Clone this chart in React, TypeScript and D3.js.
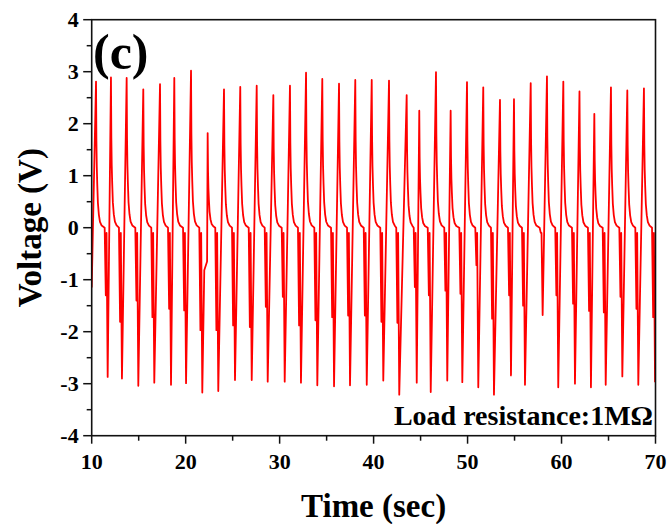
import React from "react";
import * as d3 from "d3";

// ---- data ----
const peakTimes = [10.46, 12.05, 13.72, 15.49, 17.27, 18.79, 20.57, 22.34, 24.08, 25.81, 27.56, 29.33, 31.10, 32.81, 34.54, 36.32, 38.05, 39.80, 41.64, 43.52, 44.86, 46.64, 48.20, 49.94, 51.67, 53.45, 54.94, 56.72, 58.45, 60.19, 61.91, 63.49, 65.26, 67.00, 68.77];
const peakVolts = [2.81, 2.89, 2.88, 2.66, 2.76, 2.88, 3.02, 1.82, 2.66, 2.71, 2.73, 2.55, 2.73, 2.98, 2.86, 2.77, 2.84, 2.84, 2.83, 2.55, 2.25, 2.99, 2.25, 2.80, 2.70, 2.46, 2.47, 2.78, 2.91, 2.81, 2.62, 2.19, 2.70, 2.64, 2.68];
const troughTimes = [11.70, 13.22, 14.96, 16.66, 18.44, 20.04, 21.77, 23.47, 25.25, 27.03, 28.73, 30.54, 32.27, 34.01, 35.79, 37.49, 39.27, 41.03, 42.73, 44.59, 46.08, 47.84, 49.44, 51.14, 52.81, 54.62, 56.11, 57.99, 59.65, 61.43, 63.13, 64.70, 66.47, 68.17, 69.95];
const troughVolts = [-2.87, -2.90, -3.04, -2.98, -3.02, -2.99, -3.17, -3.14, -2.93, -2.93, -2.96, -2.96, -2.98, -3.03, -3.05, -3.03, -3.02, -2.94, -3.21, -2.98, -3.16, -2.94, -2.97, -3.07, -3.21, -2.84, -3.02, -1.68, -3.07, -3.00, -3.07, -3.02, -2.86, -3.02, -2.97];
const firstDipVolts = [-1.30, -1.81, -1.40, -1.72, -1.56, -1.59, -1.97, -1.97, -1.88, -1.91, -1.52, -1.33, -1.88, -1.78, -1.72, -1.69, -1.69, -1.81, -1.83, -1.14, -1.30, -1.21, -1.27, -0.72, -1.75, -1.30, -1.50, -0.10, -1.30, -1.46, -1.60, -1.63, -1.33, -1.56, -1.72];
const startPoint: [number, number] = [10, -1.15];
const extraPoints: [number, number][] = [[21.98, -0.82], [22.28, -0.65]];
// shape of each pulse (relative to its peak / trough)
const decayOffsets = [0.04, 0.08, 0.13, 0.2, 0.3, 0.42, 0.6];
const decayShares = [0.6, 0.42, 0.3, 0.17, 0.09, 0.04, 0.015];
const dipOffsets = [-0.32, -0.2, -0.12, 0];

const xMajor = [10, 20, 30, 40, 50, 60, 70];
const xMinor = [15, 25, 35, 45, 55, 65];
const yMajor = [-4, -3, -2, -1, 0, 1, 2, 3, 4];
const yMinor = [-3.5, -2.5, -1.5, -0.5, 0.5, 1.5, 2.5, 3.5];

const W = 670, H = 524;
const M = { left: 91.7, right: 14.5, top: 19.7, bottom: 88.3 };
const FONT = "'Liberation Serif', 'Times New Roman', serif";

function buildSignal(): [number, number][] {
  const pts: [number, number][] = [startPoint];
  peakTimes.forEach((p, i) => {
    const v = peakVolts[i];
    pts.push([p, v]);
    decayOffsets.forEach((d, k) => pts.push([p + d, v * decayShares[k]]));
  });
  troughTimes.forEach((t, i) => {
    const levels = [0, firstDipVolts[i], -0.1, troughVolts[i]];
    dipOffsets.forEach((d, k) => pts.push([t + d, levels[k]]));
  });
  extraPoints.forEach((p) => pts.push(p));
  pts.sort((a, b) => a[0] - b[0]);
  return pts;
}

export default function App() {
  const x = d3.scaleLinear().domain([10, 70]).range([M.left, W - M.right]);
  const y = d3.scaleLinear().domain([-4, 4]).range([H - M.bottom, M.top]);
  const data = buildSignal();
  const line = d3.line<[number, number]>().x((d) => x(d[0])).y((d) => y(d[1]));
  const x0 = x(10), x1 = x(70), y0 = y(-4), y1 = y(4);

  return (
    <svg width={W} height={H} style={{ position: "absolute", left: 0, top: 0, display: "block", background: "#fff" }}>
      <defs>
        <clipPath id="plotClip">
          <rect x={x0} y={y1} width={x1 - x0} height={y0 - y1} />
        </clipPath>
      </defs>
      <path d={line(data) || ""} fill="none" stroke="#ff0000" strokeWidth={1.8} strokeLinejoin="round" clipPath="url(#plotClip)" />
      <rect x={x0} y={y1} width={x1 - x0} height={y0 - y1} fill="none" stroke="#111" strokeWidth={1.6} />
      {yMajor.map((v) => (
        <g key={"ym" + v}>
          <line x1={x0 - 8.5} x2={x0} y1={y(v)} y2={y(v)} stroke="#111" strokeWidth={1.5} />
          <text x={x0 - 13} y={y(v)} dy="0.34em" textAnchor="end" fontFamily={FONT} fontWeight="bold" fontSize={22} fill="#000">
            {v < 0 ? "-" + Math.abs(v) : String(v)}
          </text>
        </g>
      ))}
      {yMinor.map((v) => (
        <line key={"yn" + v} x1={x0 - 5} x2={x0} y1={y(v)} y2={y(v)} stroke="#111" strokeWidth={1.5} />
      ))}
      {xMajor.map((v) => (
        <g key={"xm" + v}>
          <line x1={x(v)} x2={x(v)} y1={y0} y2={y0 + 8} stroke="#111" strokeWidth={1.5} />
          <text x={x(v)} y={y0 + 33.3} textAnchor="middle" fontFamily={FONT} fontWeight="bold" fontSize={22} fill="#000">
            {v}
          </text>
        </g>
      ))}
      {xMinor.map((v) => (
        <line key={"xn" + v} x1={x(v)} x2={x(v)} y1={y0} y2={y0 + 5} stroke="#111" strokeWidth={1.5} />
      ))}
      <text x={(x0 + x1) / 2} y={517} textAnchor="middle" fontFamily={FONT} fontWeight="bold" fontSize={33} fill="#000">
        Time (sec)
      </text>
      <text transform={`translate(41,${(y0 + y1) / 2}) rotate(-90)`} textAnchor="middle" fontFamily={FONT} fontWeight="bold" fontSize={33} fill="#000">
        Voltage (V)
      </text>
      <text x={93} y={69} fontFamily={FONT} fontWeight="bold" fontSize={50} fill="#000">
        (c)
      </text>
      <text x={653} y={425} textAnchor="end" fontFamily={FONT} fontWeight="bold" fontSize={28} fill="#000">
        Load resistance:1MΩ
      </text>
    </svg>
  );
}
